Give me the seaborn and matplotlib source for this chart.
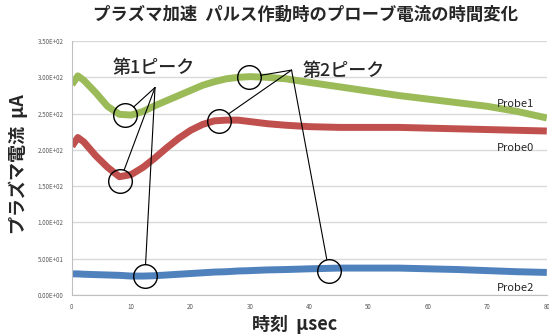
import pandas as pd
import matplotlib
matplotlib.use("Agg")
import matplotlib.pyplot as plt
import seaborn as sns
from matplotlib.ticker import FuncFormatter

sns.set_style("white")
plt.rcParams['font.family'] = ['Noto Sans CJK JP', 'DejaVu Sans']

# 時刻 (usec)
t = [0, 1, 2, 4, 6, 8, 10, 12, 14, 16, 18, 20, 22, 24, 26, 28, 30,
     33, 36, 40, 45, 50, 55, 60, 65, 70, 75, 80]
probe0 = [205, 217, 211, 192, 176, 163, 166, 176, 189, 203, 216, 227, 235,
          240, 241, 241, 239, 236, 234, 232, 231, 231, 231, 230, 229, 228, 227, 226]
probe1 = [290, 302, 296, 279, 260, 249, 248, 253, 261, 268, 275, 282, 289,
          294, 298, 300, 301, 300, 298, 293, 287, 281, 275, 270, 265, 260, 253, 244]
probe2 = [29, 29, 28.5, 28, 27.5, 27, 26, 26, 26.5, 27.5, 28.5, 29.5, 30.5,
          31.5, 32, 33, 33.5, 34.5, 35, 36, 37, 37, 37, 36, 35, 33.5, 32, 31]

# ピーク位置 (円) と引き出し線の集まる点
peak1_x = [8.9, 8.1, 12.3]
peak1_y = [248, 157, 26]
peak2_x = [29.8, 24.7, 43.3]
peak2_y = [300, 240, 33]
hub1 = (14.0, 286)
hub2 = (37.0, 310)

df = pd.DataFrame({
    't': t * 3,
    'val': probe0 + probe1 + probe2,
    'probe': ['Probe0'] * len(t) + ['Probe1'] * len(t) + ['Probe2'] * len(t),
})
colors = {'Probe0': '#C0504D', 'Probe1': '#9BBB59', 'Probe2': '#4F81BD'}

fig = plt.figure(figsize=(5.49, 3.34), dpi=100)
ax = fig.add_axes([0.131, 0.117, 0.865, 0.760])

sns.lineplot(data=df, x='t', y='val', hue='probe', palette=colors,
             linewidth=5, legend=False, ax=ax, solid_capstyle='butt')

ax.set_xlim(0, 80)
ax.set_ylim(0, 350)
ax.set_xticks(range(0, 81, 10))
ax.set_yticks(range(0, 351, 50))
ax.yaxis.set_major_formatter(FuncFormatter(lambda v, p: f"{v:.2E}"))
ax.tick_params(labelsize=4.5, colors='#595959', length=0, pad=6)
ax.grid(axis='y', color='#D9D9D9', lw=1)
for s in ['top', 'right']:
    ax.spines[s].set_visible(False)
for s in ['left', 'bottom']:
    ax.spines[s].set_color('#BFBFBF')

# 円と引き出し線
for xs, ys, hub in [(peak1_x, peak1_y, hub1), (peak2_x, peak2_y, hub2)]:
    ax.plot(xs, ys, 'o', ms=17, mfc='none', mec='black', mew=1.0, zorder=5)
    for px, py in zip(xs, ys):
        ax.annotate('', xy=(px, py), xytext=hub,
                    arrowprops=dict(arrowstyle='-', lw=0.8, color='black',
                                    shrinkA=0, shrinkB=8.6), zorder=5)

ax.text(13.8, 313, '第1ピーク', fontsize=13, fontweight='medium', ha='center', va='center')
ax.text(45.8, 309, '第2ピーク', fontsize=13, fontweight='medium', ha='center', va='center')

ax.text(74.7, 263, 'Probe1', fontsize=8, ha='center', va='center', color='#262626')
ax.text(74.7, 202, 'Probe0', fontsize=8, ha='center', va='center', color='#262626')
ax.text(74.7, 10, 'Probe2', fontsize=8, ha='center', va='center', color='#262626')

ax.set_xlabel('')
ax.set_ylabel('')
fig.text(0.556, 0.955, 'プラズマ加速  パルス作動時のプローブ電流の時間変化',
         fontsize=12.5, fontweight='bold', ha='center', va='center', color='#262626')
fig.text(0.033, 0.51, 'プラズマ電流  μA', fontsize=13, fontweight='bold',
         rotation=90, ha='center', va='center')
fig.text(0.537, 0.027, '時刻  μsec', fontsize=13, fontweight='bold',
         ha='center', va='center')

fig.savefig('out.png', dpi=100)
